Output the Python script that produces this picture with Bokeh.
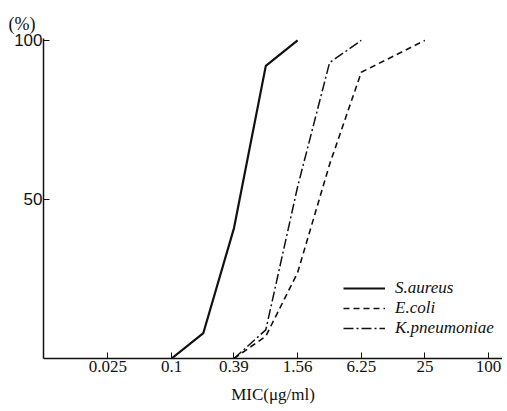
from bokeh.plotting import figure
from bokeh.models import FixedTicker, Range1d, Legend, LegendItem
from bokeh.embed import file_html
from bokeh.resources import INLINE

# x axis: MIC dilution ticks (ug/ml)
tick_values = [0.025, 0.1, 0.39, 1.56, 6.25, 25, 100]
tick_labels = ["0.025", "0.1", "0.39", "1.56", "6.25", "25", "100"]
y_ticks = [50, 100]

# cumulative % of strains inhibited
sa_mic = [0.1, 0.2, 0.39, 0.78, 1.56]
sa_pct = [0, 8, 41, 92, 100]
ec_mic = [0.39, 0.78, 1.56, 3.13, 6.25, 25]
ec_pct = [0, 7, 27, 61, 90, 100]
kp_mic = [0.39, 0.78, 1.56, 3.13, 6.25]
kp_pct = [0, 9, 54, 93, 100]

p = figure(frame_width=459, frame_height=320, x_axis_type="log",
           x_range=Range1d(0.00614, 135.6), y_range=Range1d(0, 100.6),
           output_backend="svg", toolbar_location=None,
           min_border_left=43, min_border_top=38, min_border_right=0,
           min_border_bottom=52)
p.outline_line_color = None
p.xgrid.visible = False
p.ygrid.visible = False
p.background_fill_color = "white"
p.border_fill_color = "white"

ink = "#111111"

p.title.text = "(%)"
p.title.align = "left"
p.title.offset = -35
p.title.standoff = 9
p.title.text_font = "Liberation Serif"
p.title.text_font_size = "18px"
p.title.text_font_style = "normal"
p.title.text_color = ink

r_sa = p.line(sa_mic, sa_pct, line_color=ink, line_width=2.2)
r_ec = p.line(ec_mic, ec_pct, line_color=ink, line_width=1.6, line_dash="6 4")
r_kp = p.line(kp_mic, kp_pct, line_color=ink, line_width=1.5, line_dash="10 3 2 3")

# x axis
xa = p.xaxis[0]
xa.ticker = FixedTicker(ticks=tick_values)
xa.major_label_overrides = {v: s for v, s in zip(tick_values, tick_labels)}
xa.minor_tick_line_color = None
xa.major_tick_in = 6
xa.major_tick_out = 0
xa.major_tick_line_color = ink
xa.axis_line_color = ink
xa.axis_line_width = 1.5
xa.major_label_text_font = "Liberation Serif"
xa.major_label_text_font_size = "17px"
xa.major_label_text_color = ink
xa.major_label_standoff = 2
xa.axis_label = "MIC(μg/ml)"
xa.axis_label_text_font = "Liberation Serif"
xa.axis_label_text_font_size = "17px"
xa.axis_label_text_font_style = "normal"
xa.axis_label_text_color = ink
xa.axis_label_standoff = 10

# y axis
ya = p.yaxis[0]
ya.ticker = FixedTicker(ticks=y_ticks)
ya.minor_tick_line_color = None
ya.major_tick_in = 6
ya.major_tick_out = 0
ya.major_tick_line_color = ink
ya.axis_line_color = ink
ya.axis_line_width = 1.5
ya.major_label_text_font = "Liberation Sans"
ya.major_label_text_font_size = "17px"
ya.major_label_text_color = ink
ya.major_label_standoff = 1

legend = Legend(items=[LegendItem(label="S.aureus", renderers=[r_sa]),
                       LegendItem(label="E.coli", renderers=[r_ec]),
                       LegendItem(label="K.pneumoniae", renderers=[r_kp])],
                location=(300, 20), padding=0, spacing=0, margin=0,
                border_line_color=None, background_fill_alpha=0,
                glyph_width=42, glyph_height=20, label_height=20,
                label_standoff=10, label_text_font="Liberation Serif",
                label_text_font_style="italic", label_text_font_size="17px",
                label_text_color=ink)
p.add_layout(legend)

open("out.html", "w").write(file_html(p, INLINE))
